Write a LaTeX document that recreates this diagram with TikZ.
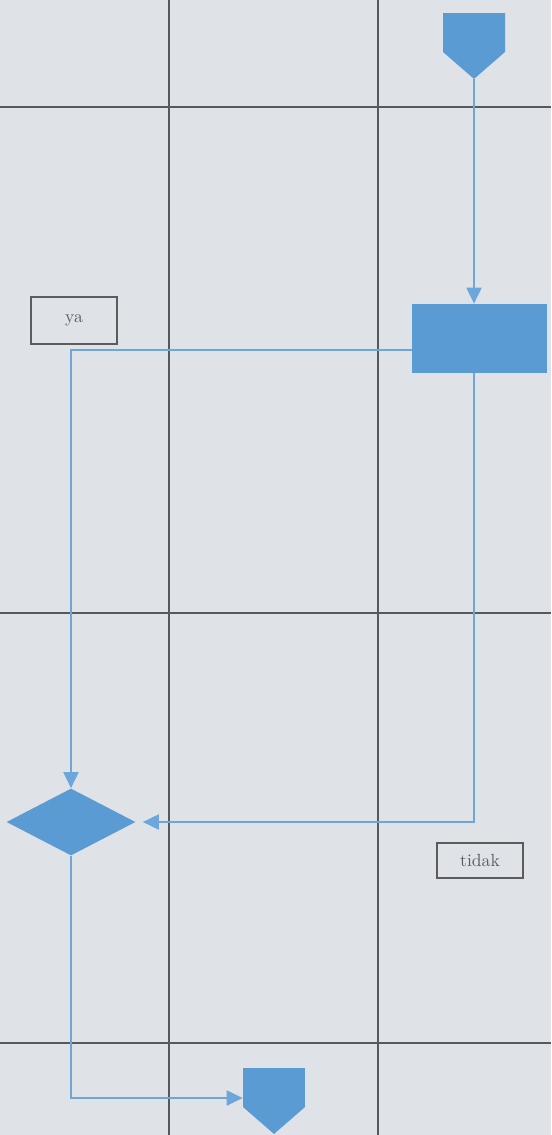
\documentclass[tikz,border=0pt]{standalone}
\usepackage{xcolor}
\usepackage{tikz}
\usetikzlibrary{arrows.meta,positioning,shapes.geometric,shapes.symbols}
\definecolor{papercolor}{HTML}{DFE2E7}
\definecolor{gridcolor}{HTML}{55585C}
\definecolor{shapecolor}{HTML}{5B9BD3}
\definecolor{flowcolor}{HTML}{6CA6DA}
\definecolor{labelcolor}{HTML}{5A5C60}

\begin{document}
\begin{tikzpicture}[x=0.02cm,y=-0.02cm,
    offpage/.style={signal,signal to=south,signal from=nowhere,signal pointer angle=98,
                    fill=shapecolor,draw=none,inner sep=0pt,minimum width=1.24cm,minimum height=0.78cm},
    procbox/.style={rectangle,fill=shapecolor,draw=none,minimum width=2.7cm,minimum height=1.38cm},
    decision/.style={diamond,fill=shapecolor,draw=none,inner sep=0pt,minimum width=2.58cm,minimum height=1.34cm},
    answer/.style={rectangle,draw=labelcolor,line width=0.6pt,minimum width=1.72cm,inner sep=0pt,
                   font=\normalsize,text=labelcolor},
    flow/.style={draw=flowcolor,line width=1.1pt,-{Triangle[length=0.32cm,width=0.3cm]}}]
    % paper and swimlane grid
    \useasboundingbox (0,0) rectangle (551,1135);
    \fill[papercolor] (0,0) rectangle (551,1135);
    \foreach \x in {169,378} {
      \draw[gridcolor,line width=0.8pt] (\x,0) -- (\x,1135);
    }
    \foreach \y in {107,613,1043} {
      \draw[gridcolor,line width=0.8pt] (0,\y) -- (551,\y);
    }
    % nodes
    \node[offpage] (start) at (474,32.5) {};
    \node[procbox] (proc) at (479.5,338.5) {};
    \node[decision] (dec) at (71,822) {};
    \node[offpage] (end) at (274,1087.5) {};
    \node[answer,minimum height=0.94cm] (ya) at (74,320.5) {ya};
    \node[answer,minimum height=0.7cm] (tidak) at (480,860.5) {tidak};
    % connectors
    \draw[flow] (start.south) -- (start.south |- proc.north);
    \draw[flow] ([yshift=-0.23cm]proc.west) -| (dec.north);
    \draw[flow,shorten >=0.14cm] (start.south |- proc.south) |- (dec.east);
    \draw[flow] (dec.south) |- ([yshift=-0.21cm]end.west);
\end{tikzpicture}
\end{document}
